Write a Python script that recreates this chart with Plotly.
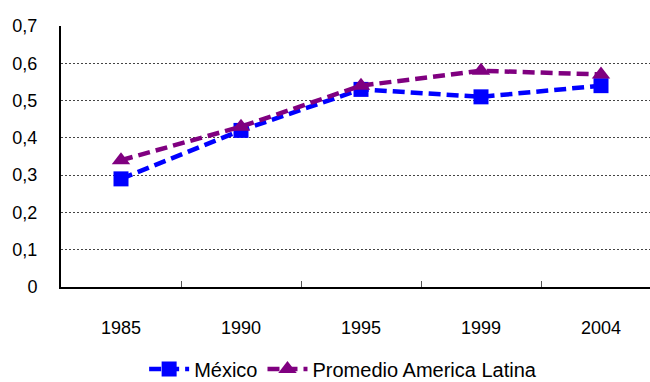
import plotly.graph_objects as go

# Data
years = ["1985", "1990", "1995", "1999", "2004"]
mexico = [0.29, 0.42, 0.53, 0.51, 0.54]
promedio_al = [0.34, 0.43, 0.54, 0.58, 0.57]
y_ticks = [0, 0.1, 0.2, 0.3, 0.4, 0.5, 0.6, 0.7]
y_tick_labels = ["0", "0,1", "0,2", "0,3", "0,4", "0,5", "0,6", "0,7"]

x_pos = list(range(len(years)))
font_family = "Liberation Sans, Arial, sans-serif"

fig = go.Figure()
fig.add_trace(go.Scatter(
    x=x_pos, y=mexico, name="México", mode="lines+markers",
    line=dict(color="#0000FF", width=4.5, dash="12px,6px"),
    marker=dict(symbol="square", size=15, color="#0000FF"),
))
fig.add_trace(go.Scatter(
    x=x_pos, y=promedio_al, name="Promedio America Latina", mode="lines+markers",
    line=dict(color="#800080", width=4.5, dash="12px,6px"),
    marker=dict(symbol="triangle-up", size=16, color="#800080"),
))

fig.update_layout(
    width=650, height=382,
    margin=dict(l=61, r=0, t=26, b=95, autoexpand=False),
    paper_bgcolor="white", plot_bgcolor="white",
    font=dict(family=font_family, size=18, color="black"),
    showlegend=True,
    legend=dict(orientation="h", x=0.479, xanchor="center",
                y=-0.314, yanchor="middle",
                font=dict(size=20), itemwidth=40, tracegroupgap=0),
    xaxis=dict(
        range=[-0.5, -0.5 + 589 / 120],
        tickvals=x_pos, ticktext=years, ticks="",
        showgrid=False, zeroline=False,
        showline=True, linecolor="black", linewidth=2,
        minor=dict(tickvals=[0.5, 1.5, 2.5, 3.5], ticks="inside", ticklen=6,
                   tickcolor="#555555", tickwidth=1, showgrid=False),
        ticklabelstandoff=23,
    ),
    yaxis=dict(
        range=[0, 0.7], tickvals=y_ticks, ticktext=y_tick_labels,
        showgrid=True, gridcolor="#444444", gridwidth=1, griddash="2px,2px",
        zeroline=False, showline=True, linecolor="black", linewidth=2,
        ticks="", ticklabelstandoff=18,
    ),
)

fig.write_html("out.html")
